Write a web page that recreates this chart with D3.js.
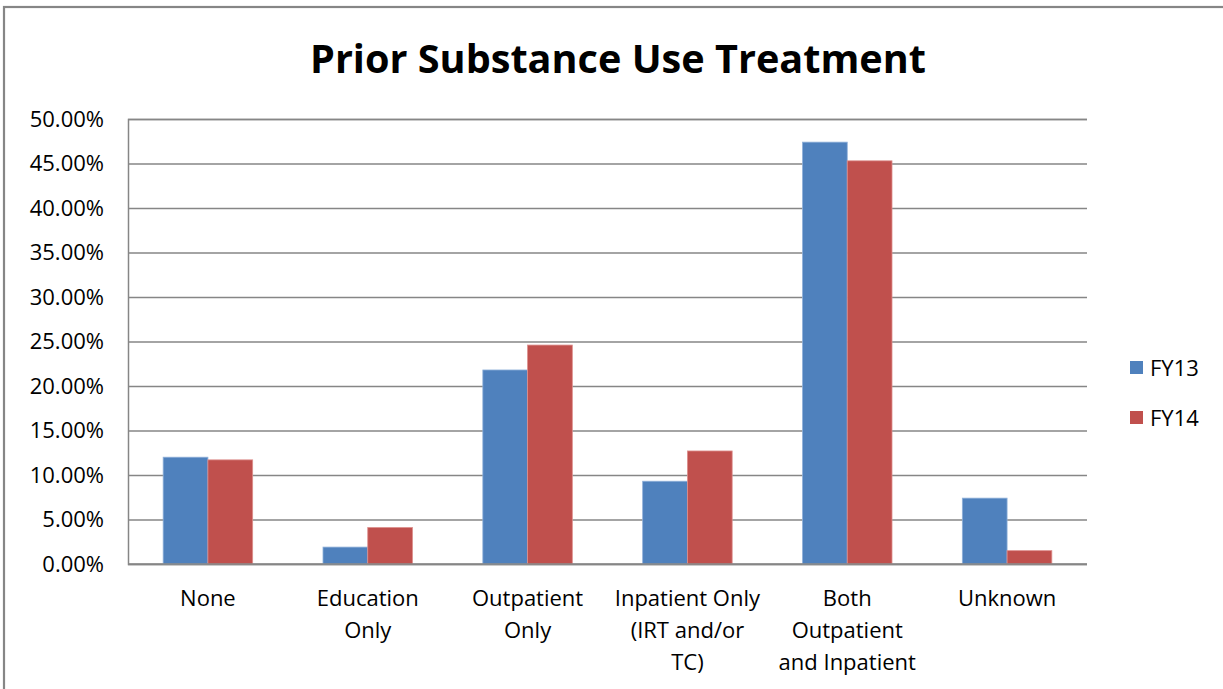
<!DOCTYPE html>
<html>
<head>
<meta charset="utf-8">
<script src="https://cdn.jsdelivr.net/npm/d3@7"></script>
<style>
  html, body { margin: 0; padding: 0; background: #fff; }
  svg { display: block; }
  text { font-family: "Open Sans", Lato, "Liberation Sans", sans-serif; fill: #000; }
</style>
</head>
<body>
<svg id="chart" width="1223" height="689"></svg>
<script>
// Prior substance use treatment, share of admissions by fiscal year
const categories = [
  ["None"],
  ["Education", "Only"],
  ["Outpatient", "Only"],
  ["Inpatient Only", "(IRT and/or", "TC)"],
  ["Both", "Outpatient", "and Inpatient"],
  ["Unknown"]
];
const seriesNames = ["FY13", "FY14"];
const fy13 = [12.0, 1.9, 21.8, 9.3, 47.4, 7.4];
const fy14 = [11.7, 4.1, 24.6, 12.7, 45.3, 1.5];
const yTicks = [0, 5, 10, 15, 20, 25, 30, 35, 40, 45, 50];
const colors = ["#4F81BD", "#C0504D"];

const svg = d3.select("#chart");
const W = 1223, H = 689;
const plot = { left: 128, right: 1087, top: 119, bottom: 564 };
const labelFont = "22px";

// outer chart frame
svg.append("rect")
  .attr("x", 4).attr("y", 7)
  .attr("width", W + 10).attr("height", H + 10)
  .attr("fill", "#fff")
  .attr("stroke", "#868686").attr("stroke-width", 2.2);

// title
const title = svg.append("text")
  .attr("x", 618).attr("y", 73)
  .attr("text-anchor", "middle")
  .style("font-weight", "bold")
  .style("font-size", "40px")
  .text("Prior Substance Use Treatment");
if (title.node().getComputedTextLength() > 0) {
  title.attr("textLength", 616).attr("lengthAdjust", "spacingAndGlyphs");
}

const keys = d3.range(categories.length);
const x0 = d3.scaleBand().domain(keys).range([plot.left, plot.right]).paddingInner(0.44).paddingOuter(0.22);
const x1 = d3.scaleBand().domain(seriesNames).range([0, x0.bandwidth()]);
const y = d3.scaleLinear().domain([0, 50]).range([plot.bottom, plot.top]);

// gridlines + y axis labels
const yAxis = d3.axisLeft(y).tickValues(yTicks)
  .tickSize(-(plot.right - plot.left))
  .tickPadding(24)
  .tickFormat(d => d.toFixed(2) + "%");
const gy = svg.append("g").attr("transform", `translate(${plot.left},0)`).call(yAxis);
gy.select(".domain").attr("stroke", "#868686").attr("stroke-width", 1.5);
gy.selectAll(".tick line").attr("stroke", "#868686").attr("stroke-width", 1.5);
gy.selectAll(".tick text")
  .style("font-size", labelFont)
  .style("font-family", "'Open Sans', Lato, sans-serif")
  .attr("fill", "#000");

// bars
const rows = keys.map(i => ({ i, vals: [fy13[i], fy14[i]] }));
const groups = svg.append("g").selectAll("g").data(rows).join("g")
  .attr("transform", d => `translate(${x0(d.i)},0)`);
groups.selectAll("rect")
  .data(d => d.vals.map((v, k) => ({ k, v })))
  .join("rect")
  .attr("x", d => x1(seriesNames[d.k]))
  .attr("y", d => y(d.v))
  .attr("width", x1.bandwidth())
  .attr("height", d => y(0) - y(d.v))
  .attr("fill", d => colors[d.k])
  .attr("stroke", d => d.k === 0 ? "#8fb0d9" : "#dd8f8d")
  .attr("stroke-width", 0.8);

// baseline drawn over bars
svg.append("line")
  .attr("x1", plot.left).attr("x2", plot.right)
  .attr("y1", y(0)).attr("y2", y(0))
  .attr("stroke", "#868686").attr("stroke-width", 1.5);

// category labels
const xl = svg.append("g");
categories.forEach((lines, i) => {
  const cx = x0(i) + x0.bandwidth() / 2;
  const t = xl.append("text")
    .attr("text-anchor", "middle")
    .attr("x", cx)
    .attr("y", 606)
    .style("font-size", labelFont);
  lines.forEach((ln, j) => {
    t.append("tspan").attr("x", cx).attr("dy", j === 0 ? 0 : 32).text(ln);
  });
});

// legend
const lg = svg.append("g");
seriesNames.forEach((s, k) => {
  const yy = 368 + k * 50;
  lg.append("rect")
    .attr("x", 1130).attr("y", yy - 7)
    .attr("width", 13).attr("height", 13)
    .attr("fill", colors[k]);
  lg.append("text")
    .attr("x", 1150).attr("y", yy + 8)
    .style("font-size", labelFont)
    .text(s);
});
</script>
</body>
</html>
